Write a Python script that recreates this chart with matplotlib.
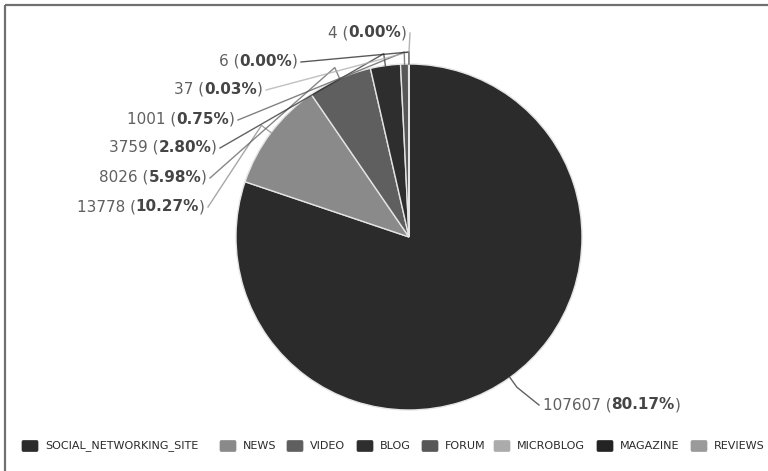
import matplotlib
matplotlib.use("Agg")
import matplotlib.pyplot as plt
from matplotlib.patches import FancyBboxPatch
import numpy as np

categories = ["SOCIAL_NETWORKING_SITE", "NEWS", "VIDEO", "BLOG", "FORUM",
              "MICROBLOG", "MAGAZINE", "REVIEWS"]
counts = [107607, 13778, 8026, 3759, 1001, 37, 6, 4]
percent_labels = ["80.17%", "10.27%", "5.98%", "2.80%", "0.75%", "0.03%", "0.00%", "0.00%"]
colors = ["#2b2b2b", "#8a8a8a", "#5f5f5f", "#2e2e2e", "#575757", "#ababab", "#232323", "#9a9a9a"]

W, H = 768, 471
CX, CY, R = 409, H - 237, 173

# label anchor (pixel x, pixel y of text centre) and which side of the text the leader meets
label_pos = [(543, 405, "left"), (205, 207, "right"), (207, 178, "right"), (217, 148, "right"),
             (235, 120, "right"), (263, 90, "right"), (298, 62, "right"), (407, 33, "right")]
legend_x = [22, 220, 287, 357, 422, 494, 597, 691]

fig = plt.figure(figsize=(W / 100, H / 100), dpi=100)
ax = fig.add_axes([0, 0, 1, 1])

ax.pie(counts, colors=colors, startangle=90, counterclock=False, center=(CX, CY), radius=R,
       wedgeprops=dict(edgecolor="#e4e4e4", linewidth=1.0))
ax.set_xlim(0, W)
ax.set_ylim(0, H)
ax.set_aspect("auto")
ax.axis("off")

# frame lines along the top and left edge
ax.plot([5, 5], [0, H - 5], color="#707070", lw=1.6, solid_capstyle="butt")
ax.plot([5, W], [H - 5, H - 5], color="#707070", lw=1.6, solid_capstyle="butt")

total = float(sum(counts))
cum = np.cumsum(counts)
TXT = "#606060"
BOLD = "#454545"
FS = 11

for i, (v, pct) in enumerate(zip(counts, percent_labels)):
    theta = np.deg2rad(360.0 * (cum[i] - v / 2.0) / total)
    ex, ey = CX + R * np.sin(theta), CY + R * np.cos(theta)
    kx, ky = CX + (R + 12) * np.sin(theta), CY + (R + 12) * np.cos(theta)
    px, py, side = label_pos[i]
    ty = H - py
    base = ty - 4
    lx = px - 4 if side == "left" else px + 3
    ax.plot([ex, kx, lx], [ey, ky, ty], color=colors[i], lw=1.0, alpha=0.75)

    if side == "left":
        t1 = ax.text(px, base, f"{v} (", color=TXT, fontsize=FS, ha="left", va="baseline")
        t2 = ax.annotate(pct, xy=(1, base), xycoords=(t1, "data"), color=BOLD, fontsize=FS,
                         fontweight="bold", ha="left", va="baseline")
        ax.annotate(")", xy=(1, base), xycoords=(t2, "data"), color=TXT, fontsize=FS,
                    ha="left", va="baseline")
    else:
        t3 = ax.text(px, base, ")", color=TXT, fontsize=FS, ha="right", va="baseline")
        t2 = ax.annotate(pct, xy=(0, base), xycoords=(t3, "data"), color=BOLD, fontsize=FS,
                         fontweight="bold", ha="right", va="baseline")
        ax.annotate(f"{v} (", xy=(0, base), xycoords=(t2, "data"), color=TXT, fontsize=FS,
                    ha="right", va="baseline")

# legend row
ly = H - 446
for name, col, x in zip(categories, colors, legend_x):
    ax.add_patch(FancyBboxPatch((x + 1.5, ly - 4), 13, 8, boxstyle="round,pad=1.5",
                                facecolor=col, edgecolor=col, lw=0.5))
    ax.text(x + 23, ly, name, color="#2a2a2a", fontsize=8.0, ha="left", va="center")

fig.savefig("out.png", dpi=100)
